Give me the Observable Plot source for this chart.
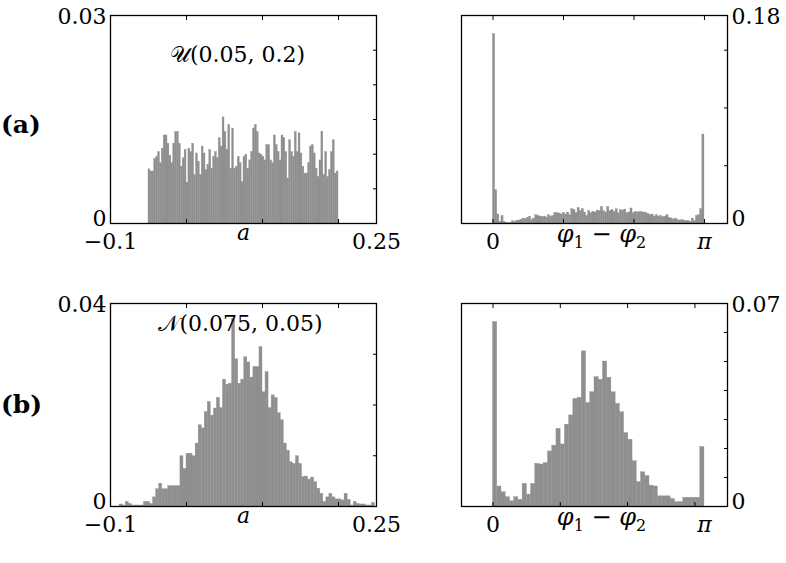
<!DOCTYPE html>
<html><head><meta charset="utf-8">
<script src="https://cdn.jsdelivr.net/npm/d3@7"></script>
<script src="https://cdn.jsdelivr.net/npm/@observablehq/plot@0.6"></script>
<style>
body{margin:0;background:#fff;}
#chart{position:relative;width:786px;height:563px;}
.panel{position:absolute;}
.panel svg{overflow:visible;}
.tag{position:absolute;font-weight:bold;font-size:25px;font-family:"DejaVu Serif",serif;line-height:1;}
</style></head><body><div id="chart"></div>
<script>
// ---- data ----
// (a) left: histogram of a ~ U, bins from -0.05, width 0.0025
const aLeftBinStart = -0.05;
const aLeftBinWidth = 0.0025;
const aLeftValues = [
  .0078,.0075,.0075,.0093,.0096,.0103,.0087,.0108,.0127,.0127,
  .0115,.0098,.0087,.0115,.0132,.0132,.0115,.0082,.0094,.0106,
  .0059,.0108,.0103,.0115,.0070,.0101,.0089,.0070,.0111,.0101,
  .0077,.0084,.0106,.0079,.0096,.0103,.0094,.0123,.0111,.0153,
  .0132,.0106,.0142,.0079,.0137,.0079,.0082,.0096,.0087,.0060,
  .0096,.0099,.0079,.0091,.0103,.0137,.0142,.0132,.0101,.0099,
  .0096,.0091,.0113,.0113,.0091,.0087,.0127,.0113,.0103,.0091,
  .0127,.0123,.0103,.0065,.0120,.0103,.0096,.0132,.0103,.0130,
  .0101,.0082,.0072,.0072,.0087,.0111,.0113,.0101,.0079,.0067,
  .0091,.0132,.0070,.0103,.0067,.0077,.0103,.0120,.0072,.0075
];
// (a) right: histogram of phase difference, 100 bins on [0, pi]
const aRightValues = [
  0.164,0.0288,0.0078,0.0014,0.0066,0.0014,0.0006,0.0003,0.0006,0.0020,
  0.0014,0.0023,0.0026,0.0032,0.0043,0.0037,0.0049,0.0058,0.0029,0.0043,
  0.0072,0.0066,0.0060,0.0055,0.0060,0.0052,0.0072,0.0060,0.0066,0.0089,
  0.0092,0.0086,0.0078,0.0092,0.0078,0.0095,0.0072,0.0124,0.0118,0.0092,
  0.0135,0.0107,0.0124,0.0095,0.0066,0.0107,0.0089,0.0101,0.0095,0.0112,
  0.0107,0.0144,0.0107,0.0095,0.0144,0.0107,0.0118,0.0101,0.0124,0.0089,
  0.0118,0.0112,0.0121,0.0089,0.0095,0.0130,0.0089,0.0101,0.0095,0.0101,
  0.0098,0.0095,0.0092,0.0083,0.0072,0.0078,0.0060,0.0072,0.0060,0.0066,
  0.0055,0.0060,0.0072,0.0049,0.0043,0.0035,0.0043,0.0032,0.0026,0.0029,
  0.0026,0.0020,0.0023,0.0014,0.0043,0.0020,0.0066,0.0072,0.0124,0.077
];
// (b) left: histogram of a ~ N, bins from -0.1, width 0.004
const bLeftBinStart = -0.1;
const bLeftBinWidth = 0.004;
const bLeftValues = [
  0,0,0,0.0004,0.0002,0.0009,0.0005,0.0002,0.0002,0.0002,
  0.0002,0.0009,0.0009,0.0005,0.0018,0.0034,0.0045,0.0034,0.0034,0.0040,
  0.0040,0.0040,0.0040,0.0099,0.0074,0.0104,0.0104,0.0099,0.0124,0.0160,
  0.0154,0.0186,0.0206,0.0179,0.0193,0.0214,0.0194,0.0250,0.0240,0.0242,
  0.0370,0.0290,0.0242,0.0250,0.0294,0.0284,0.0254,0.0275,0.0275,0.0314,
  0.0225,0.0265,0.0194,0.0219,0.0214,0.0184,0.0170,0.0124,0.0110,0.0087,
  0.0084,0.0099,0.0084,0.0058,0.0059,0.0053,0.0057,0.0048,0.0035,0.0025,
  0.0009,0.0018,0.0025,0.0018,0.0014,0.0014,0.0012,0.0025,0.0013,0.0002,
  0.0009,0.0005,0.0004,0.0004,0.0002,0.0002,0.0007
];
// (b) right: histogram of phase difference, 50 bins on [0, pi]
const bRightValues = [
  0.0636,0.0069,0.0049,0.0032,0.0018,0.0032,0.0023,0.0078,0.0041,0.0078,
  0.0147,0.0145,0.0150,0.0190,0.0210,0.0268,0.0214,0.0282,0.0314,0.0371,
  0.0375,0.0535,0.0357,0.0394,0.0446,0.0437,0.0500,0.0444,0.0394,0.0354,
  0.0325,0.0253,0.0230,0.0156,0.0084,0.0118,0.0105,0.0072,0.0069,0.0035,
  0.0035,0.0035,0.0026,0.0015,0.0015,0.0030,0.0030,0.0030,0.0030,0.0205
];
const titles = ["\u{1D4B0}(0.05, 0.2)", "\u{1D4A9}(0.075, 0.05)"];
const rowTags = ["(a)", "(b)"];
const xLabelA = "a";
const xLabelPhi = "\u03C6\u2081 \u2212 \u03C6\u2082";
const aTicksX = [-0.1, 0.25];
const aTicksInner = [0, 0.1, 0.2];
const phiTicks = [0, Math.PI];
const phiInnerA = [0, Math.PI/3, 2*Math.PI/3, Math.PI];
const phiInnerB = [0, 1, 2, 3];
const aLeftY = [0, 0.03], aLeftYInner = [0.005,0.01,0.015,0.02,0.025];
const aRightY = [0, 0.18], aRightYInner = [0.05,0.1,0.15];
const bLeftY = [0, 0.04], bLeftYInner = [0.01,0.02,0.03];
const bRightY = [0, 0.07], bRightYInner = [0.01,0.02,0.03,0.04,0.05,0.06];

// ---- drawing ----
const FONT = "DejaVu Serif";
const barFill = "#8f8f8f";
const fmtA = d => d < 0 ? "\u2212" + String(-d) : String(d);
const fmtPhi = d => d === 0 ? "0" : "\u03C0";
const fmtY = d => String(d);

function binsFrom(values, start, width) {
  return values.map((v, i) => ({x1: start + i*width, x2: start + (i+1)*width, y: v}));
}

function panel(o) {
  const svg = Plot.plot({
    width: o.width, height: o.height,
    marginLeft: o.ml, marginRight: o.mr, marginTop: o.mt, marginBottom: o.mb,
    style: {fontFamily: FONT, fontSize: "22px", background: "transparent", color: "black"},
    x: {domain: o.xDomain},
    y: {domain: [0, o.yTicks[1]]},
    marks: [
      Plot.rectY(o.data, {x1: "x1", x2: "x2", y: "y", fill: barFill, stroke: barFill, strokeWidth: 0.35, inset: 0}),
      Plot.frame({stroke: "black", strokeWidth: 1.3}),
      Plot.axisX({anchor: "top", ticks: o.xInner, tickSize: -4, tickFormat: () => "", label: null}),
      Plot.axisX({anchor: "bottom", ticks: o.xInner, tickSize: -4, tickFormat: () => "", label: null}),
      Plot.axisX({anchor: "bottom", ticks: o.xTicks, tickSize: 0, tickPadding: 10, tickFormat: o.xFmt, label: null, fontSize: 22}),
      Plot.axisY({anchor: "right", ticks: o.yInner, tickSize: -4, tickFormat: () => "", label: null}),
      // top value label (max) and bottom value label (0), each placed on its own
      Plot.axisY({anchor: o.ySide, ticks: [o.yTicks[1]], tickSize: 0, tickPadding: 4, dy: 1, tickFormat: fmtY, label: null, fontSize: 22}),
      Plot.axisY({anchor: o.ySide, ticks: [o.yTicks[0]], tickSize: 0, tickPadding: 4, dy: -5, tickFormat: fmtY, label: null, fontSize: 22}),
      Plot.text([o.xLabel], {text: d => d, frameAnchor: "bottom", dy: o.xLabelDy || 16, dx: o.xLabelDx || 0, fontStyle: "italic", fontSize: 22}),
      o.title ? Plot.text([o.title], {text: d => d, frameAnchor: "top", dy: o.titleDy, dx: o.titleDx || 0, fontSize: 22}) : null
    ]
  });
  // render the phase-difference label with true subscripts
  d3.select(svg).selectAll("text").filter(function() { return this.textContent === xLabelPhi; })
    .each(function() {
      const t = d3.select(this);
      t.text(null);
      const parts = [["\u03C6", 0, 24], ["1", 6, 16], [" \u2212 ", -6, 24], ["\u03C6", 0, 24], ["2", 6, 16]];
      parts.forEach(([s, dy, fs]) => {
        t.append("tspan").attr("dy", dy).attr("font-size", fs)
          .attr("font-style", /\d/.test(s) || s.includes("\u2212") ? "normal" : "italic").text(s);
      });
    });
  // italic pi tick label, as in the reference
  d3.select(svg).selectAll("text").filter(function() { return this.textContent === "\u03C0"; })
    .attr("font-style", "italic");
  return svg;
}

const chart = document.getElementById("chart");
function place(el, left, top) {
  const d = document.createElement("div");
  d.className = "panel"; d.style.left = left + "px"; d.style.top = top + "px";
  d.appendChild(el); chart.appendChild(d);
}

const phiDomain = [-0.468, 3.484];
place(panel({width: 400, height: 260, ml: 110, mr: 24, mt: 15, mb: 37,
  data: binsFrom(aLeftValues, aLeftBinStart, aLeftBinWidth),
  xDomain: [-0.1, 0.25], xTicks: aTicksX, xInner: aTicksInner, xFmt: fmtA,
  yTicks: aLeftY, yInner: aLeftYInner, ySide: "left",
  xLabel: xLabelA, title: titles[0], titleDy: 31, titleDx: -6}), 0, 0);
place(panel({width: 386, height: 260, ml: 61, mr: 59, mt: 15, mb: 37,
  data: binsFrom(aRightValues, 0, Math.PI/aRightValues.length),
  xDomain: phiDomain, xTicks: phiTicks, xInner: phiInnerA, xFmt: fmtPhi,
  yTicks: aRightY, yInner: aRightYInner, ySide: "right",
  xLabel: xLabelPhi, xLabelDx: 7, xLabelDy: 18}), 400, 0);
place(panel({width: 400, height: 260, ml: 110, mr: 24, mt: 13, mb: 44,
  data: binsFrom(bLeftValues, bLeftBinStart, bLeftBinWidth),
  xDomain: [-0.1, 0.25], xTicks: aTicksX, xInner: aTicksInner, xFmt: fmtA,
  yTicks: bLeftY, yInner: bLeftYInner, ySide: "left",
  xLabel: xLabelA, title: titles[1], titleDy: 12, titleDx: -3}), 0, 290);
place(panel({width: 386, height: 260, ml: 61, mr: 59, mt: 13, mb: 44,
  data: binsFrom(bRightValues, 0, Math.PI/bRightValues.length),
  xDomain: phiDomain, xTicks: phiTicks, xInner: phiInnerB, xFmt: fmtPhi,
  yTicks: bRightY, yInner: bRightYInner, ySide: "right",
  xLabel: xLabelPhi, xLabelDx: 7, xLabelDy: 18}), 400, 290);

[[rowTags[0], 112], [rowTags[1], 392]].forEach(([t, top]) => {
  const d = document.createElement("div");
  d.className = "tag"; d.textContent = t;
  d.style.left = "1px"; d.style.top = top + "px";
  chart.appendChild(d);
});
</script></body></html>
